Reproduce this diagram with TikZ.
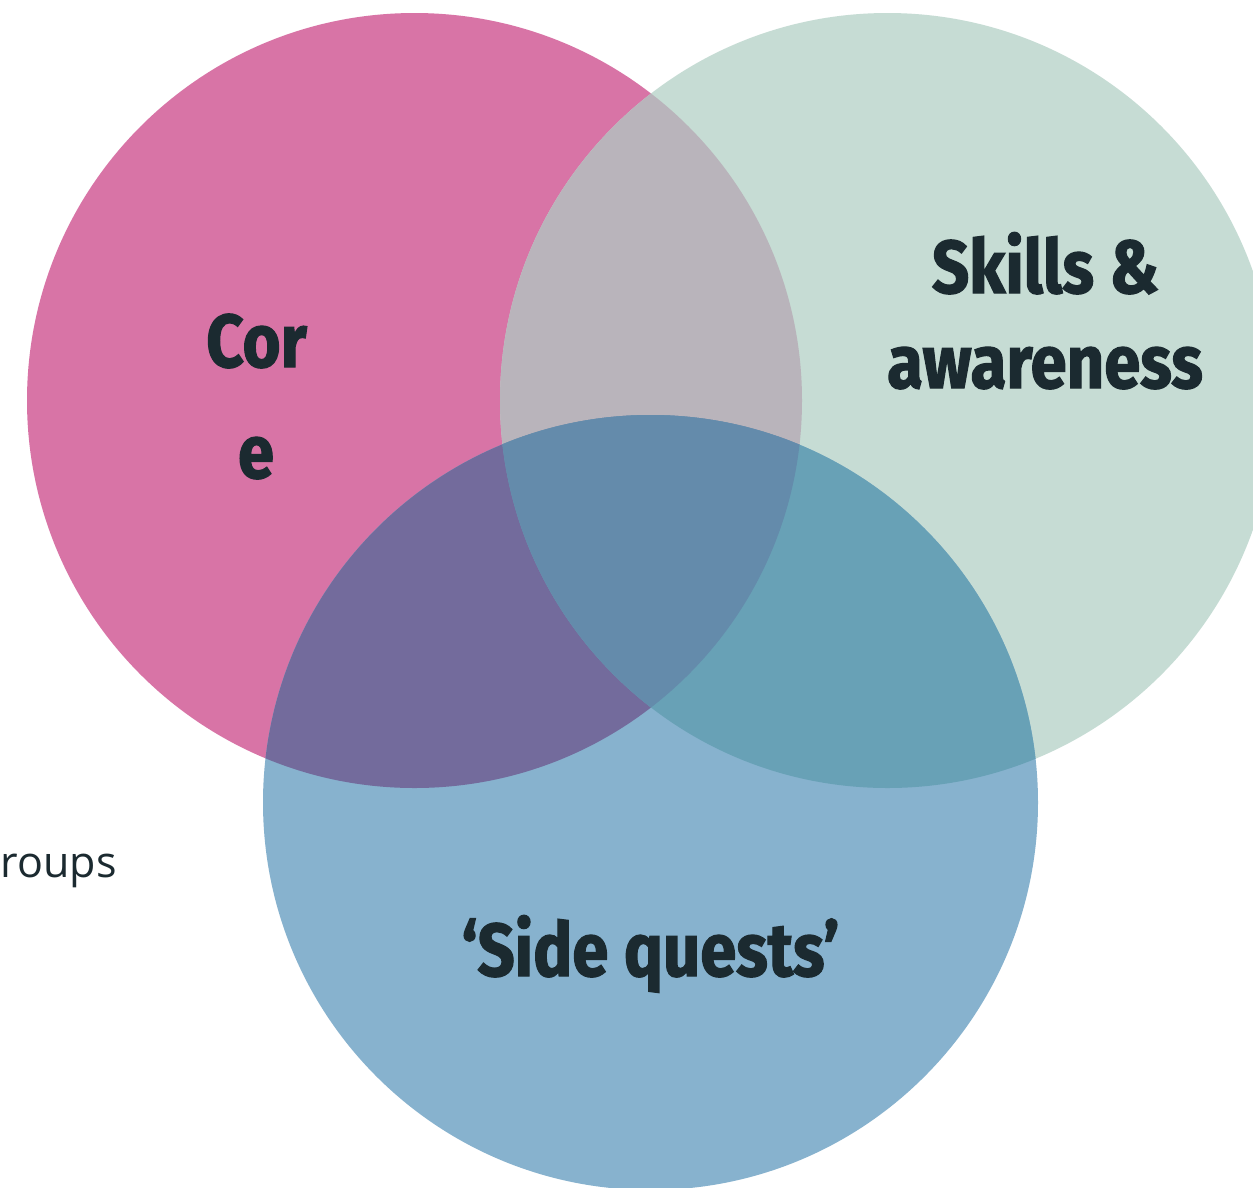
\documentclass[tikz,border=0pt]{standalone}
\usepackage{fontspec}
\newfontfamily\headfont{Fira Sans}[FakeStretch=0.87, BoldFeatures={FakeBold=1.6}]
\newfontfamily\bodyfont{Open Sans}
\definecolor{cpink}{HTML}{D874A6}
\definecolor{cgreen}{HTML}{C6DCD4}
\definecolor{cblue}{HTML}{87B2CE}
\definecolor{cpg}{HTML}{B9B4BB}
\definecolor{cpb}{HTML}{736B9C}
\definecolor{cgb}{HTML}{68A1B6}
\definecolor{cpgb}{HTML}{648BAB}
\definecolor{ink}{HTML}{1B2A30}
\tikzset{
  headlabel/.style={anchor=base, inner sep=0pt, text=ink, font=\headfont\bfseries\fontsize{75}{80}\selectfont},
  bodylabel/.style={anchor=base east, inner sep=0pt, text=ink, font=\bodyfont\fontsize{43}{47}\selectfont}
}
\def\pinkcirc{(414.5,400.5) circle (387.5pt)}
\def\greencirc{(887.5,400.5) circle (387.5pt)}
\def\bluecirc{(650.5,802.5) circle (387.5pt)}
\begin{document}
\begin{tikzpicture}[x=1pt,y=-1pt]
\useasboundingbox (0,0) rectangle (1253,1187);
\fill[white] (0,0) rectangle (1253,1187);
\begin{scope}
\clip (0,0) rectangle (1253,1187);
\fill[cpink] \pinkcirc;
\fill[cgreen] \greencirc;
\fill[cblue] \bluecirc;
\begin{scope}
  \clip \pinkcirc;
  \fill[cpg] \greencirc;
  \fill[cpb] \bluecirc;
\end{scope}
\begin{scope}
  \clip \greencirc;
  \fill[cgb] \bluecirc;
\end{scope}
\begin{scope}
  \clip \pinkcirc;
  \clip \greencirc;
  \fill[cpgb] \bluecirc;
\end{scope}
\end{scope}
\node[bodylabel] (groups) at (117,877) {roups};
\node[headlabel] (core1) at (256.5,367) {Cor};
\node[headlabel] (core2) at (256,478) {e};
\node[headlabel] (skills1) at (1045.5,293) {Skills \&};
\node[headlabel] (skills2) at (1045,388) {awareness};
\node[headlabel] (side) at (650.5,976) {‘Side quests’};
\end{tikzpicture}
\end{document}
